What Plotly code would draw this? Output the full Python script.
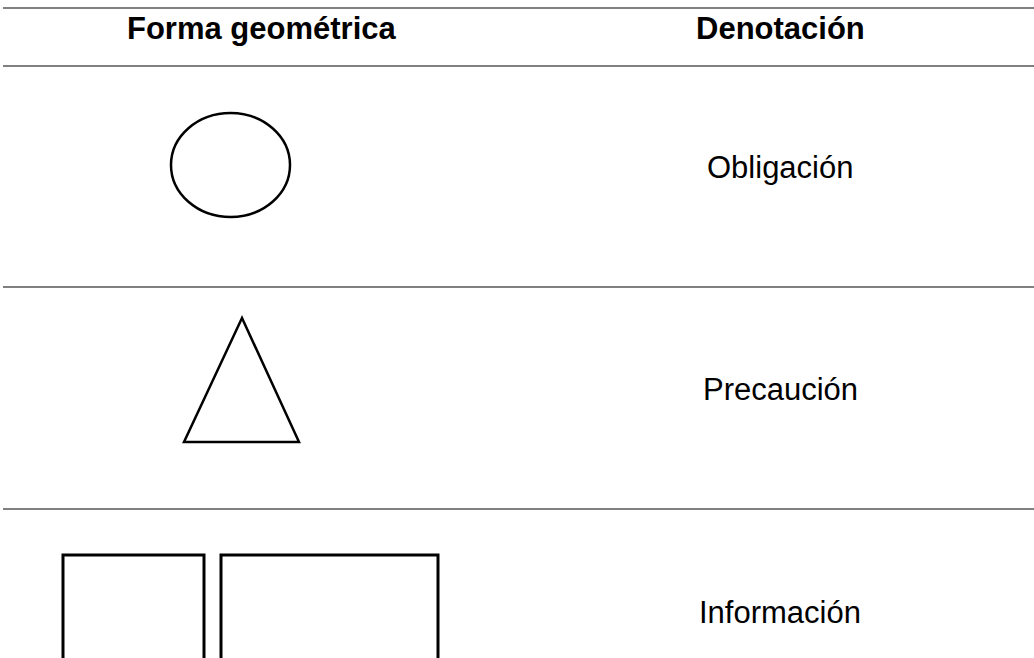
import plotly.graph_objects as go

W, H = 1034, 658

# Table content
headers = ["Forma geométrica", "Denotación"]
header_x = [262, 780]
header_y = [28]
row_labels = ["Obligación", "Precaución", "Información"]
row_label_x = [780, 780, 780]
row_label_y = [167, 389, 612]
rule_y = [8, 66, 287, 509]
rule_x = [3, 1034]

# Geometric forms (pixel-space in axis units)
ellipse_box = [171, 113, 290, 217]
triangle_pts = [(242, 318), (184, 442), (299, 442)]
rects = [[63, 555, 204, 700], [221, 555, 438, 700]]

fig = go.Figure()
shapes = []
for y in rule_y:
    shapes.append(dict(type="line", xref="x", yref="y", x0=rule_x[0], x1=rule_x[1], y0=y, y1=y,
                       line=dict(color="#808080", width=2)))
shapes.append(dict(type="circle", xref="x", yref="y", x0=ellipse_box[0], y0=ellipse_box[1],
                   x1=ellipse_box[2], y1=ellipse_box[3], line=dict(color="black", width=2.5)))
path = "M " + " L ".join(f"{x},{y}" for x, y in triangle_pts) + " Z"
shapes.append(dict(type="path", xref="x", yref="y", path=path, line=dict(color="black", width=2.5)))
for r in rects:
    shapes.append(dict(type="rect", xref="x", yref="y", x0=r[0], y0=r[1], x1=r[2], y1=r[3],
                       line=dict(color="black", width=3)))

annotations = []
for t, x in zip(headers, header_x):
    annotations.append(dict(x=x, y=header_y[0], xref="x", yref="y", text=f"<b>{t}</b>", showarrow=False,
                            xanchor="center", yanchor="middle",
                            font=dict(family="Liberation Sans, Arial", size=31, color="black")))
for t, x, y in zip(row_labels, row_label_x, row_label_y):
    annotations.append(dict(x=x, y=y, xref="x", yref="y", text=t, showarrow=False,
                            xanchor="center", yanchor="middle",
                            font=dict(family="Liberation Sans, Arial", size=31, color="black")))

fig.update_layout(
    width=W, height=H, margin=dict(l=0, r=0, t=0, b=0),
    paper_bgcolor="white", plot_bgcolor="white",
    xaxis=dict(range=[0, W], visible=False, fixedrange=True),
    yaxis=dict(range=[H, 0], visible=False, fixedrange=True),
    shapes=shapes, annotations=annotations, showlegend=False,
)
fig.write_html("out.html", config={"displayModeBar": False},
               post_script="document.body.style.margin='0';document.body.style.overflow='hidden';")
